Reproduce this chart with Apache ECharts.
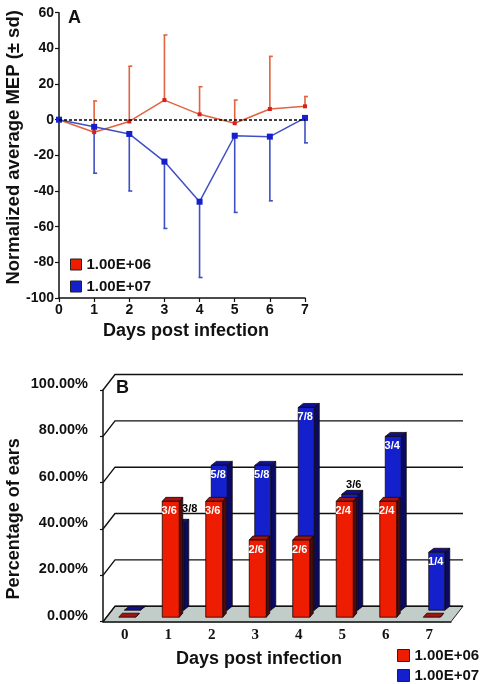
<!DOCTYPE html>
<html><head><meta charset="utf-8">
<style>html,body{margin:0;padding:0;background:#fff}#c{width:480px;height:684px}</style>
<script src="https://cdn.jsdelivr.net/npm/echarts@6/dist/echarts.min.js"></script>
</head><body><div id="c"></div>
<script>
const days = [0,1,2,3,4,5,6,7];
const doseLow = '1.00E+06';
const doseHigh = '1.00E+07';
const mepLow = [0,-7,-1,11,3,-2,6,7.5];
const mepLowUpper = [0,10.5,30,47.5,18.5,11,35.5,13];
const mepHigh = [0,-4,-8,-23.5,-46,-9,-9.5,1];
const mepHighLower = [0,-30,-40,-61,-88.5,-52,-45.5,-13];
const pctLow = [0,50,50,33.3,33.3,50,50,0];
const pctHigh = [0,37.5,62.5,62.5,87.5,50,75,25];
const fracLow = ['','3/6','3/6','2/6','2/6','2/4','2/4',''];
const fracHigh = ['','3/8','5/8','5/8','7/8','3/6','3/4','1/4'];
const pctTicks = [0,20,40,60,80,100];

const RED='#ee1c00', BLUE='#1420cc', LRED='#e2633f', LBLUE='#3f50c4';
const F='"Liberation Sans",Arial,sans-serif';
const chart = echarts.init(document.getElementById('c'));

function errSeries(name, means, ends, color){
  return {type:'custom',name,xAxisIndex:0,yAxisIndex:0,z:3,silent:true,
    data:days.map((d,i)=>[d,means[i],ends[i]]),
    encode:{x:0,y:[1,2]},
    renderItem(p,api){
      const a=api.coord([api.value(0),api.value(1)]), b=api.coord([api.value(0),api.value(2)]);
      const st={stroke:color,lineWidth:1.6,fill:null};
      return {type:'group',children:[
        {type:'line',shape:{x1:a[0],y1:a[1],x2:b[0],y2:b[1]},style:st},
        {type:'line',shape:{x1:b[0]-1,y1:b[1],x2:b[0]+3,y2:b[1]},style:st}]};
    }};
}
function lineSeries(name, vals, color, fill, size){
  return {type:'line',name,xAxisIndex:0,yAxisIndex:0,z:4,
    data:days.map((d,i)=>[d,vals[i]]),
    symbol:'rect',symbolSize:size,showSymbol:true,
    lineStyle:{color,width:1.5},itemStyle:{color:fill}};
}
function wallSeries(){
  return {type:'custom',xAxisIndex:1,yAxisIndex:1,z:1,silent:true,
    data:pctTicks.map(v=>[0,v]),encode:{x:0,y:1},
    renderItem(p,api){
      const y=api.coord([0,api.value(1)])[1], c=p.coordSys, L=c.x, R=c.x+c.width, dx=12, dy=15.5;
      const ch=[];
      if(api.value(1)===0){
        ch.push({type:'polygon',shape:{points:[[L,y],[R,y],[R+dx,y-dy],[L+dx,y-dy]]},
          style:{fill:'#c2ccc9',stroke:'#222',lineWidth:1}});
      }
      ch.push({type:'polyline',shape:{points:[[L,y],[L+dx,y-dy],[R+dx,y-dy]]},
        style:{stroke:'#111',lineWidth:1.4,fill:null}});
      return {type:'group',children:ch};
    }};
}
function barSeries(name, vals, fracs, o){
  return {type:'custom',name,xAxisIndex:1,yAxisIndex:1,z:o.z,silent:true,
    itemStyle:{color:o.front},
    data:days.map((d,i)=>[i,vals[i]]),encode:{x:0,y:1},
    renderItem(p,api){
      const i=api.value(0), v=api.value(1);
      const base=api.coord([i,0]), top=api.coord([i,v]);
      const y0=base[1]-o.lift, y1=top[1]-o.lift;
      const x0=base[0]+o.shift-8, x1=x0+o.w, d=o.depth, up=4;
      const ln={stroke:'#100808',lineWidth:0.8};
      const ch=[
        {type:'polygon',shape:{points:[[x1,y0],[x1+d,y0-up],[x1+d,y1-up],[x1,y1]]},style:{fill:o.side,...ln}},
        {type:'polygon',shape:{points:[[x0,y1],[x1,y1],[x1+d,y1-up],[x0+d,y1-up]]},style:{fill:o.cap,...ln}}
      ];
      if(v>0) ch.push({type:'rect',shape:{x:x0,y:y1,width:o.w,height:y0-y1},style:{fill:o.front,...ln}});
      const t=fracs[i];
      if(t){
        const out=o.outside&&o.outside[i];
        ch.push({type:'text',z2:5,style:{text:t,font:'bold 11px '+F,fill:out?'#000':'#fff',align:'center',verticalAlign:'middle',
          x:out?x0+8+out[0]:x0+8-1,y:out?y1+out[1]:y1+10}});
      }
      return {type:'group',children:ch};
    }};
}
const lgText={fontFamily:F,fontWeight:'bold',fontSize:15,color:'#111'};
const lgIcon={borderColor:'#222',borderWidth:1};

chart.setOption({
  animation:false,
  backgroundColor:'#fff',
  textStyle:{fontFamily:F},
  grid:[
    {left:59,top:12.7,width:246,height:285.3,outerBoundsMode:'none'},
    {left:103,top:390,width:348,height:231.7,outerBoundsMode:'none'}
  ],
  legend:[
    {left:70,top:257,height:40,orient:'vertical',itemWidth:11,itemHeight:11,itemGap:7,padding:0,textStyle:lgText,selectedMode:false,
     data:[{name:doseLow,icon:'rect',itemStyle:{color:RED,...lgIcon}},{name:doseHigh,icon:'rect',itemStyle:{color:BLUE,...lgIcon}}]},
    {left:397,top:648,height:36,orient:'vertical',itemWidth:12,itemHeight:12,itemGap:5,padding:0,textStyle:lgText,selectedMode:false,
     data:[{name:doseLow,icon:'rect',itemStyle:{color:RED,...lgIcon}},{name:doseHigh,icon:'rect',itemStyle:{color:BLUE,...lgIcon}}]}
  ],
  xAxis:[
    {type:'value',gridIndex:0,min:0,max:7,interval:1,
     axisLine:{onZero:false,lineStyle:{color:'#111',width:1.5}},
     axisTick:{length:4,lineStyle:{color:'#111',width:1.2}},splitLine:{show:false},
     axisLabel:{color:'#111',fontWeight:'bold',fontSize:14,margin:5,hideOverlap:false},
     name:'Days post infection',nameLocation:'middle',nameGap:24,nameMoveOverlap:false,
     nameTextStyle:{color:'#111',fontWeight:'bold',fontSize:18,padding:[0,0,0,8]}},
    {type:'category',gridIndex:1,data:days.map(String),
     axisLine:{onZero:false,lineStyle:{color:'#111',width:1.5}},
     axisTick:{length:4,lineStyle:{color:'#111',width:1.2}},splitLine:{show:false},
     axisLabel:{color:'#111',fontWeight:'bold',fontSize:15,margin:6,fontFamily:'"Liberation Serif",serif'},
     name:'Days post infection',nameLocation:'middle',nameGap:28,nameMoveOverlap:false,
     nameTextStyle:{color:'#111',fontWeight:'bold',fontSize:18,padding:[0,36,0,0]}}
  ],
  yAxis:[
    {type:'value',gridIndex:0,min:-100,max:60,interval:20,
     axisLine:{show:true,onZero:false,lineStyle:{color:'#111',width:1.5}},
     axisTick:{show:true,length:4,lineStyle:{color:'#111',width:1.2}},splitLine:{show:false},
     axisLabel:{color:'#111',fontWeight:'bold',fontSize:14,margin:5},
     name:'Normalized average MEP (± sd)',nameLocation:'middle',nameGap:36,nameMoveOverlap:false,
     nameTextStyle:{color:'#111',fontWeight:'bold',fontSize:18.5,padding:[0,0,0,16]}},
    {type:'value',gridIndex:1,min:0,max:100,interval:20,
     axisLine:{show:true,onZero:false,lineStyle:{color:'#111',width:1.5}},
     axisTick:{show:true,length:3,lineStyle:{color:'#111',width:1.2}},splitLine:{show:false},
     axisLabel:{color:'#111',fontWeight:'bold',fontSize:14.5,margin:15,verticalAlign:'bottom',lineHeight:12,formatter:v=>v.toFixed(2)+'%'},
     name:'Percentage of ears',nameLocation:'middle',nameGap:80,nameMoveOverlap:false,
     nameTextStyle:{color:'#111',fontWeight:'bold',fontSize:18,padding:[0,26,0,0]}}
  ],
  graphic:[
    {type:'text',left:68,top:9,style:{text:'A',font:'bold 18px '+F,fill:'#111'}},
    {type:'text',left:116,top:379,style:{text:'B',font:'bold 18px '+F,fill:'#111'}}
  ],
  series:[
    errSeries(doseLow,mepLow,mepLowUpper,LRED),
    errSeries(doseHigh,mepHigh,mepHighLower,LBLUE),
    Object.assign(lineSeries(doseLow,mepLow,LRED,'#d8201a',4),{
      markLine:{silent:true,symbol:'none',label:{show:false},
        lineStyle:{color:'#000',type:[3,2],width:1.5},data:[{yAxis:0}]}}),
    lineSeries(doseHigh,mepHigh,LBLUE,BLUE,6),
    wallSeries(),
    barSeries(doseHigh,pctHigh,fracHigh,{z:2,front:BLUE,side:'#0a0a62',cap:'#10108e',lift:11.5,shift:7.5,w:16,depth:5,
      outside:{1:[14,-14],5:[4,-9]}}),
    barSeries(doseLow,pctLow,fracLow,{z:3,front:RED,side:'#4e0c0c',cap:'#a01414',lift:4.5,shift:2,w:17,depth:3.5})
  ]
});
</script></body></html>
